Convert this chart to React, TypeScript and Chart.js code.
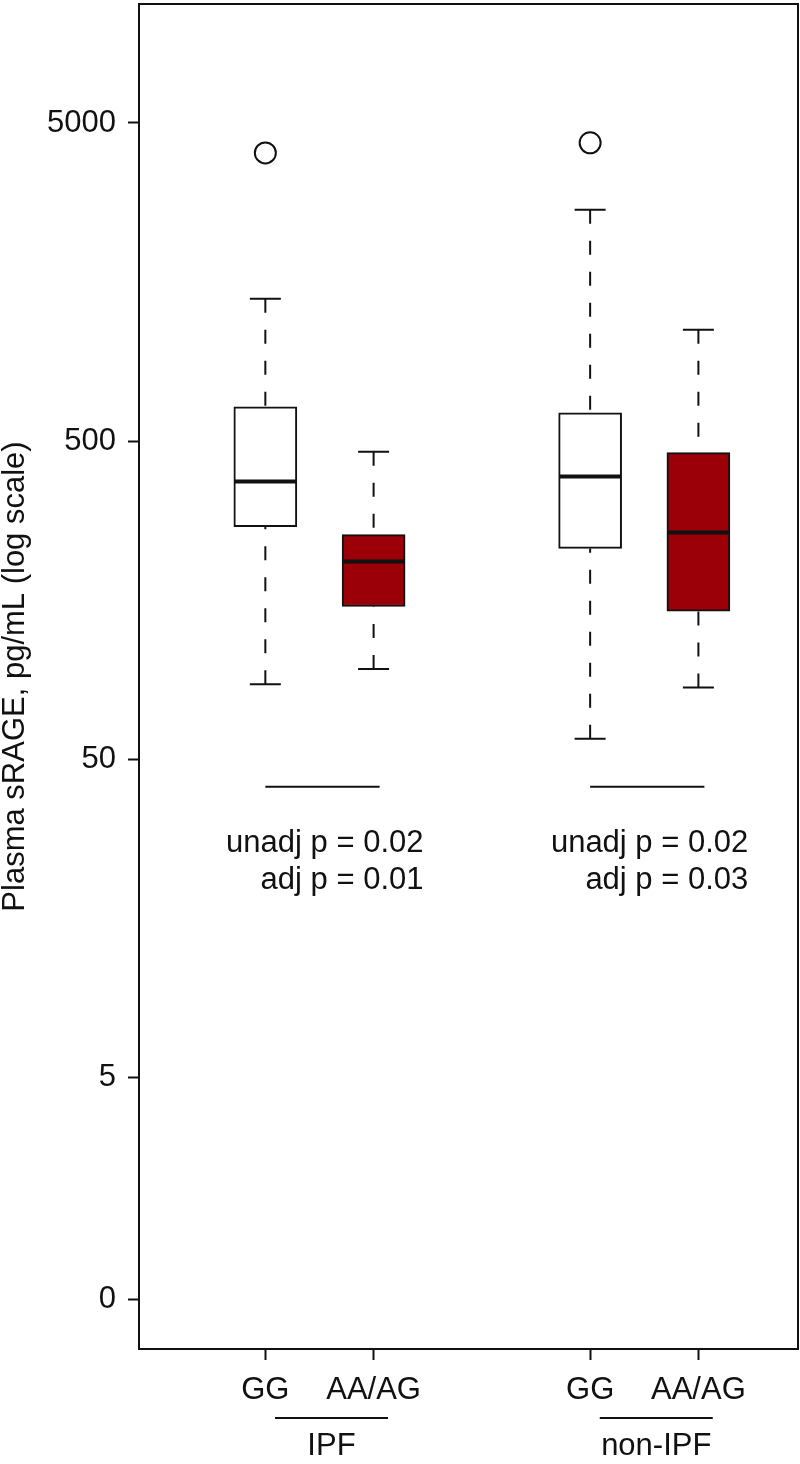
import React, { useEffect, useRef } from 'react';
import { Chart, registerables } from 'chart.js';

Chart.register(...registerables);

// ---- data ----
const categories = ['GG', 'AA/AG', 'GG', 'AA/AG'];
const xPositions = [1, 2, 4, 5];
const groupLabels = ['IPF', 'non-IPF'];
const groupMembers = [[0, 1], [2, 3]];
const whiskerLow = [86, 96, 58, 84];
const q1 = [269, 151, 230, 146];
const median = [373, 209, 387, 258];
const q3 = [641, 254, 614, 460];
const whiskerHigh = [1401, 463, 2668, 1119];
const outlierIndex = [0, 2];
const outlierValues = [4027, 4333];
const yTickValues = [1, 5, 50, 500, 5000];
const yTickLabels = ['0', '5', '50', '500', '5000'];
const unadjP = ['unadj p = 0.02', 'unadj p = 0.02'];
const adjP = ['adj p = 0.01', 'adj p = 0.03'];
const bracketValue = 41;
const yTitle = 'Plasma sRAGE, pg/mL (log scale)';

// ---- styles ----
const FONT = "'Liberation Sans', Arial, Helvetica, sans-serif";
const INK = '#111111';
const RED = '#9b0008';
const boxColors = ['#ffffff', RED, '#ffffff', RED];

const extrasPlugin = {
  id: 'boxExtras',
  afterDatasetsDraw(chart: any) {
    const { ctx } = chart;
    const x = chart.scales.x;
    const y = chart.scales.y;
    ctx.save();
    ctx.strokeStyle = INK;
    for (let i = 0; i < xPositions.length; i++) {
      const px = x.getPixelForValue(xPositions[i]);
      const yLo = y.getPixelForValue(whiskerLow[i]);
      const yQ1 = y.getPixelForValue(q1[i]);
      const yMed = y.getPixelForValue(median[i]);
      const yQ3 = y.getPixelForValue(q3[i]);
      const yHi = y.getPixelForValue(whiskerHigh[i]);
      ctx.lineWidth = 2;
      ctx.setLineDash([14, 17]);
      ctx.beginPath();
      ctx.moveTo(px, yHi);
      ctx.lineTo(px, yQ3);
      ctx.stroke();
      ctx.beginPath();
      ctx.moveTo(px, yLo);
      ctx.lineTo(px, yQ1);
      ctx.stroke();
      ctx.setLineDash([]);
      ctx.beginPath();
      ctx.moveTo(px - 15.5, yHi);
      ctx.lineTo(px + 15.5, yHi);
      ctx.moveTo(px - 15.5, yLo);
      ctx.lineTo(px + 15.5, yLo);
      ctx.stroke();
      ctx.lineWidth = 4;
      ctx.beginPath();
      ctx.moveTo(px - 31, yMed);
      ctx.lineTo(px + 31, yMed);
      ctx.stroke();
    }
    ctx.restore();
  },
  afterDraw(chart: any) {
    const { ctx, chartArea } = chart;
    const x = chart.scales.x;
    const y = chart.scales.y;
    ctx.save();
    ctx.strokeStyle = INK;
    ctx.lineWidth = 2;
    ctx.strokeRect(chartArea.left, chartArea.top, chartArea.right - chartArea.left, chartArea.bottom - chartArea.top);

    ctx.fillStyle = INK;
    ctx.font = `31px ${FONT}`;
    ctx.textBaseline = 'middle';
    const by = y.getPixelForValue(bracketValue);
    groupMembers.forEach((m, g) => {
      const xa = x.getPixelForValue(xPositions[m[0]]);
      const xb = x.getPixelForValue(xPositions[m[1]]);
      const mid = (xa + xb) / 2;
      ctx.lineWidth = 2;
      ctx.beginPath();
      ctx.moveTo(xa, by);
      ctx.lineTo(xb + 6, by);
      ctx.stroke();
      const right = mid + 104;
      ctx.textAlign = 'right';
      ctx.fillText(unadjP[g], right, by + 57);
      ctx.fillText(adjP[g], right, by + 94);
      const gx = mid + 12;
      ctx.beginPath();
      ctx.moveTo(gx - 56.5, chartArea.bottom + 69);
      ctx.lineTo(gx + 56.5, chartArea.bottom + 69);
      ctx.stroke();
      ctx.textAlign = 'center';
      ctx.fillText(groupLabels[g], gx, chartArea.bottom + 97);
    });
    ctx.restore();
  },
};

export default function App() {
  const ref = useRef<HTMLCanvasElement | null>(null);
  useEffect(() => {
    if (!ref.current) return;
    const chart = new Chart(ref.current, {
      type: 'bar',
      data: {
        datasets: [
          {
            type: 'bar',
            data: xPositions.map((xv, i) => ({ x: xv, y: [q1[i], q3[i]] })) as any,
            backgroundColor: boxColors,
            borderColor: INK,
            borderWidth: 2,
            borderSkipped: false,
            barThickness: 63,
            grouped: false,
          } as any,
          {
            type: 'scatter',
            data: outlierIndex.map((idx, k) => ({ x: xPositions[idx], y: outlierValues[k] })),
            pointRadius: 10.5,
            pointBackgroundColor: 'rgba(0,0,0,0)',
            pointBorderColor: INK,
            pointBorderWidth: 2,
            showLine: false,
          } as any,
        ],
      },
      options: {
        responsive: false,
        animation: false,
        events: [],
        layout: { autoPadding: false, padding: { left: 0, top: 4, right: 2, bottom: 0 } },
        plugins: { legend: { display: false }, tooltip: { enabled: false }, title: { display: false } },
        scales: {
          x: {
            type: 'linear',
            offset: false,
            min: -0.167,
            max: 5.92,
            afterBuildTicks: (s: any) => {
              s.ticks = xPositions.map((v) => ({ value: v }));
            },
            afterFit: (s: any) => {
              s.height = 115;
              s.paddingLeft = 0;
              s.paddingRight = 0;
            },
            grid: { display: true, offset: false, drawOnChartArea: false, drawTicks: true, tickLength: 11, tickColor: INK, tickWidth: 2 },
            border: { display: false },
            ticks: {
              autoSkip: false,
              maxRotation: 0,
              padding: 12,
              color: INK,
              font: { family: FONT, size: 31 },
              callback: (_v: any, i: number) => categories[i],
            },
          },
          y: {
            type: 'logarithmic',
            min: 0.7,
            max: 11830,
            afterBuildTicks: (s: any) => {
              s.ticks = yTickValues.map((v) => ({ value: v }));
            },
            afterFit: (s: any) => {
              s.width = 139;
              s.paddingTop = 0;
              s.paddingBottom = 0;
            },
            grid: { display: true, drawOnChartArea: false, drawTicks: true, tickLength: 11, tickColor: INK, tickWidth: 2 },
            border: { display: false },
            title: {
              display: true,
              text: yTitle,
              color: INK,
              font: { family: FONT, size: 31, lineHeight: 1 },
              padding: 0,
            },
            ticks: {
              autoSkip: false,
              padding: 12,
              color: INK,
              font: { family: FONT, size: 31 },
              callback: (_v: any, i: number) => yTickLabels[i],
            },
          },
        },
      } as any,
      plugins: [extrasPlugin],
    });
    return () => chart.destroy();
  }, []);
  return (
    <div style={{ position: 'absolute', left: 0, top: 0, width: 800, height: 1464, background: '#fff' }}>
      <canvas ref={ref} width={800} height={1464} style={{ display: 'block' }} />
    </div>
  );
}
